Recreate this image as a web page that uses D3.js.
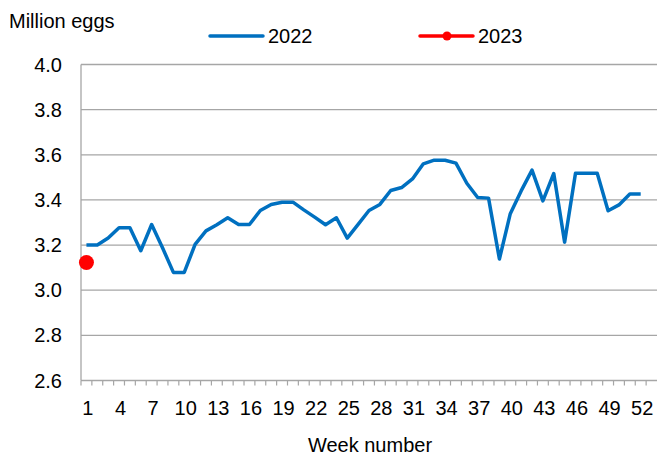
<!DOCTYPE html>
<html>
<head>
<meta charset="utf-8">
<script src="https://cdn.jsdelivr.net/npm/d3@7"></script>
<style>
  body { margin: 0; background: #fff; }
  svg { display: block; font-family: "Liberation Sans", Arial, sans-serif; }
</style>
</head>
<body>
<svg id="chart" width="657" height="458"></svg>
<script>
// week categories (axis has room for 53 weeks)
const weeks = [1,2,3,4,5,6,7,8,9,10,11,12,13,14,15,16,17,18,19,20,21,22,23,24,25,26,
  27,28,29,30,31,32,33,34,35,36,37,38,39,40,41,42,43,44,45,46,47,48,49,50,51,52,53];

const values2022 = [3.200,3.200,3.231,3.277,3.277,3.175,3.291,3.188,3.079,3.079,
  3.203,3.263,3.290,3.321,3.291,3.291,3.353,3.380,3.390,3.390,
  3.356,3.324,3.290,3.321,3.231,3.292,3.353,3.380,3.442,3.455,
  3.493,3.560,3.576,3.576,3.563,3.474,3.411,3.408,3.138,3.339,
  3.440,3.532,3.396,3.517,3.213,3.518,3.518,3.518,3.352,3.378,
  3.426,3.426];
const values2023 = [3.123];

const yTicks = [2.6, 2.8, 3.0, 3.2, 3.4, 3.6, 3.8, 4.0];
const xLabels = [1,4,7,10,13,16,19,22,25,28,31,34,37,40,43,46,49,52];

const svg = d3.select("#chart");
const plotLeft = 81, plotRight = 657, plotTop = 64.5, plotBottom = 380.5;

const x = d3.scaleBand().domain(weeks).range([plotLeft, plotRight]);
const y = d3.scaleLinear().domain([2.6, 4.0]).range([plotBottom, plotTop]);
const cx = w => x(w) + x.bandwidth() / 2;

// gridlines
svg.append("g")
  .selectAll("line")
  .data(yTicks)
  .join("line")
  .attr("x1", plotLeft).attr("x2", plotRight)
  .attr("y1", d => y(d)).attr("y2", d => y(d))
  .attr("stroke", "#a6a6a6")
  .attr("stroke-width", 1.3);

// y axis line
svg.append("line")
  .attr("x1", plotLeft).attr("x2", plotLeft)
  .attr("y1", plotTop).attr("y2", plotBottom)
  .attr("stroke", "#a6a6a6").attr("stroke-width", 1.3);

// x axis tick marks at category boundaries
svg.append("g")
  .selectAll("line")
  .data(weeks)
  .join("line")
  .attr("x1", d => x(d)).attr("x2", d => x(d))
  .attr("y1", plotBottom).attr("y2", plotBottom + 5)
  .attr("stroke", "#a6a6a6").attr("stroke-width", 1.2);

// y tick labels
svg.append("g")
  .selectAll("text")
  .data(yTicks)
  .join("text")
  .attr("x", 62)
  .attr("y", d => y(d) + 7)
  .attr("text-anchor", "end")
  .attr("font-size", 20)
  .attr("fill", "#000")
  .text(d => d.toFixed(1));

// x tick labels
svg.append("g")
  .selectAll("text")
  .data(xLabels)
  .join("text")
  .attr("x", d => cx(d) + 1.5)
  .attr("y", 415)
  .attr("text-anchor", "middle")
  .attr("font-size", 20)
  .attr("fill", "#000")
  .text(d => d);

// axis titles
svg.append("text")
  .attr("x", 9).attr("y", 28)
  .attr("font-size", 20)
  .text("Million eggs");

svg.append("text")
  .attr("x", (plotLeft + plotRight) / 2 + 1).attr("y", 452)
  .attr("text-anchor", "middle")
  .attr("font-size", 20)
  .text("Week number");

// 2022 line
const line = d3.line()
  .x((d, i) => cx(weeks[i]))
  .y(d => y(d));

svg.append("path")
  .datum(values2022)
  .attr("d", line)
  .attr("fill", "none")
  .attr("stroke", "#0070c0")
  .attr("stroke-width", 3.5)
  .attr("stroke-linejoin", "round");

// 2023 points
svg.append("g")
  .selectAll("circle")
  .data(values2023)
  .join("circle")
  .attr("cx", (d, i) => cx(weeks[i]))
  .attr("cy", d => y(d))
  .attr("r", 7.5)
  .attr("fill", "#ff0000");

// legend
const legend = svg.append("g");
legend.append("line")
  .attr("x1", 210).attr("x2", 263).attr("y1", 36).attr("y2", 36)
  .attr("stroke", "#0070c0").attr("stroke-width", 3.5).attr("stroke-linecap", "round");
legend.append("text")
  .attr("x", 268).attr("y", 43)
  .attr("font-size", 20)
  .text("2022");

legend.append("line")
  .attr("x1", 420).attr("x2", 473).attr("y1", 36).attr("y2", 36)
  .attr("stroke", "#ff0000").attr("stroke-width", 3.5).attr("stroke-linecap", "round");
legend.append("circle")
  .attr("cx", 447).attr("cy", 36).attr("r", 4.5)
  .attr("fill", "#ff0000");
legend.append("text")
  .attr("x", 478).attr("y", 43)
  .attr("font-size", 20)
  .text("2023");
</script>
</body>
</html>
